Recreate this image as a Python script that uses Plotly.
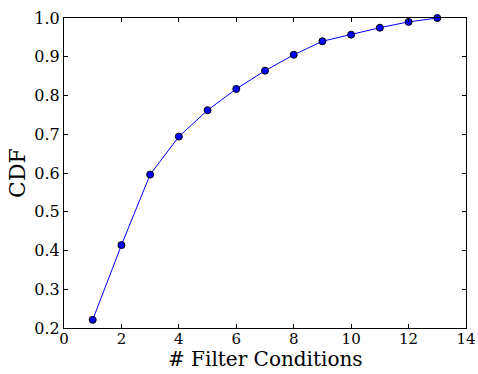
import plotly.graph_objects as go

x_vals = [1, 2, 3, 4, 5, 6, 7, 8, 9, 10, 11, 12, 13]
cdf_vals = [0.221, 0.414, 0.596, 0.694, 0.762, 0.817, 0.864, 0.905, 0.940, 0.957, 0.975, 0.990, 1.0]
x_ticks = [0, 2, 4, 6, 8, 10, 12, 14]
y_ticks = [0.2, 0.3, 0.4, 0.5, 0.6, 0.7, 0.8, 0.9, 1.0]

fig = go.Figure()
fig.add_trace(go.Scatter(
    x=x_vals, y=cdf_vals, mode="lines+markers",
    line=dict(color="#0000ff", width=1),
    marker=dict(color="#0000ff", size=7, line=dict(color="black", width=1)),
    cliponaxis=False,
))

font_family = "DejaVu Serif"
B = 46
fig.update_layout(
    width=478, height=374,
    margin=dict(l=64, r=12, t=18, b=B, autoexpand=False),
    paper_bgcolor="white", plot_bgcolor="white",
    showlegend=False,
    font=dict(family=font_family, color="black"),
)
fig.update_xaxes(
    range=[0, 14], tickvals=x_ticks, ticktext=[str(v) for v in x_ticks],
    ticks="inside", ticklen=4, tickcolor="black", mirror="ticks",
    showline=True, linecolor="black", linewidth=1, showgrid=False, zeroline=False,
    tickfont=dict(size=15, family=font_family), automargin=False,
    ticklabelstandoff=-3,
)
fig.update_yaxes(
    range=[0.2, 1.0], tickvals=y_ticks, ticktext=["%.1f" % v for v in y_ticks],
    ticks="inside", ticklen=4, tickcolor="black", mirror="ticks",
    showline=True, linecolor="black", linewidth=1, showgrid=False, zeroline=False,
    tickfont=dict(size=16, family=font_family), automargin=False,
    title=dict(text="CDF", font=dict(size=22, family=font_family), standoff=2),
)
fig.add_annotation(
    text="# Filter Conditions", xref="paper", yref="paper", x=0.5, y=0,
    xanchor="center", yanchor="bottom", yshift=-B + 1, showarrow=False,
    font=dict(size=20, family=font_family, color="black"),
)
fig.write_html("out.html")
